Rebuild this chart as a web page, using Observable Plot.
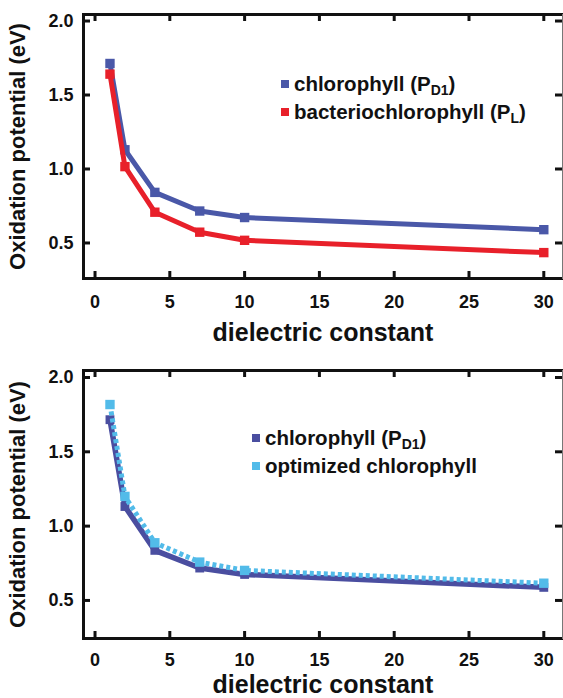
<!DOCTYPE html>
<html>
<head>
<meta charset="utf-8">
<script src="https://cdn.jsdelivr.net/npm/d3@7"></script>
<script src="https://cdn.jsdelivr.net/npm/@observablehq/plot@0.6"></script>
<style>
  html, body { margin: 0; padding: 0; background: #fff; }
  #wrap { position: relative; width: 563px; height: 698px; overflow: hidden; font-family: "Liberation Sans", Arial, sans-serif; }
  #wrap svg { display: block; }
  .legend { position: absolute; font-weight: bold; font-size: 20.5px; color: #111; }
  .legend .row { display: flex; align-items: center; height: 28px; white-space: nowrap; }
  .legend .sw { width: 8px; height: 8px; margin-right: 5px; flex: none; }
  .legend .sub { font-size: 0.68em; position: relative; top: 0.3em; line-height: 0; }
</style>
</head>
<body>
<div id="wrap"></div>
<script>
// ---- data ----
const dielectric = [1, 2, 4, 7, 10, 30];
const chlorophyllPD1 = [1.713, 1.130, 0.842, 0.716, 0.672, 0.590];
const bacteriochlorophyllPL = [1.641, 1.016, 0.708, 0.573, 0.518, 0.435];
const chlorophyllPD1Lower = [1.716, 1.132, 0.837, 0.718, 0.675, 0.588];
const optimizedChlorophyll = [1.818, 1.200, 0.888, 0.758, 0.702, 0.616];
const xTicks = [0, 5, 10, 15, 20, 25, 30];
const yTicks = [0.5, 1.0, 1.5, 2.0];
const xTitle = "dielectric constant";
const yTitle = "Oxidation potential (eV)";

const colors = {
  chlorophyll: "#4a58a8",
  bacterio: "#e8202a",
  chlorophyllDark: "#4a4ea0",
  optimized: "#52bbe9"
};

const toRows = (vals) => dielectric.map((x, i) => ({x, y: vals[i]}));

const W = 563;
const mL = 83, mR = 1;
const innerW = W - mL - mR;

function panel({height, marginTop, marginBottom, yDomain, series, titleDy, xPad}) {
  const innerH = height - marginTop - marginBottom;
  const marks = [];
  for (const s of series) {
    marks.push(Plot.line(toRows(s.values), {x: "x", y: "y", stroke: s.color, strokeWidth: s.width, strokeDasharray: s.dash, strokeLinecap: s.dash ? "butt" : "round", strokeLinejoin: "round"}));
    marks.push(Plot.dot(toRows(s.values), {x: "x", y: "y", symbol: "square", fill: s.color, r: s.r}));
  }
  return Plot.plot({
    width: W,
    height,
    marginLeft: mL,
    marginRight: mR,
    marginTop,
    marginBottom,
    style: {fontFamily: "'Liberation Sans', Arial, sans-serif", fontSize: "18px", fontWeight: "bold", color: "#111", background: "#fff", overflow: "visible"},
    x: {domain: [-0.77, 31.25]},
    y: {domain: yDomain},
    marks: [
      Plot.axisX(xTicks, {tickSize: 0, tickPadding: xPad, fontSize: 18, fontWeight: "bold", label: null}),
      Plot.axisY(yTicks, {tickSize: 0, tickPadding: 10, fontSize: 18, fontWeight: "bold", tickFormat: d3.format(".1f"), label: null}),
      // inward ticks on all four sides
      Plot.tickY(yTicks, {y: d => d, insetRight: innerW - 7, strokeWidth: 3, stroke: "#111"}),
      Plot.tickY(yTicks, {y: d => d, insetLeft: innerW - 7, strokeWidth: 3, stroke: "#111"}),
      Plot.tickX(xTicks, {x: d => d, insetBottom: innerH - 7, strokeWidth: 3, stroke: "#111"}),
      Plot.tickX(xTicks, {x: d => d, insetTop: innerH - 7, strokeWidth: 3, stroke: "#111"}),
      Plot.frame({anchor: "left", strokeWidth: 3, stroke: "#111"}),
      Plot.frame({anchor: "bottom", strokeWidth: 3, stroke: "#111"}),
      Plot.frame({anchor: "top", strokeWidth: 3, stroke: "#111"}),
      Plot.frame({anchor: "right", strokeWidth: 1, stroke: "#777"}),
      ...marks,
      Plot.text([xTitle], {frameAnchor: "bottom", dy: titleDy, lineAnchor: "bottom", fontSize: 25, fontWeight: "bold", fill: "#111"}),
      Plot.text([yTitle], {frameAnchor: "left", textAnchor: "middle", dx: -66, rotate: -90, fontSize: 22, fontWeight: "bold", fill: "#111"})
    ]
  });
}

const wrap = document.getElementById("wrap");

const topPlot = panel({
  height: 350, marginTop: 14, marginBottom: 72,
  yDomain: [0.26, 2.044],
  titleDy: 62,
  xPad: 17,
  series: [
    {values: chlorophyllPD1, color: colors.chlorophyll, width: 5, r: 5.3},
    {values: bacteriochlorophyllPL, color: colors.bacterio, width: 5, r: 5.3}
  ]
});
topPlot.style.position = "absolute"; topPlot.style.left = "0px"; topPlot.style.top = "0px";
wrap.appendChild(topPlot);

const bottomPlot = panel({
  height: 348, marginTop: 20, marginBottom: 60,
  yDomain: [0.244, 2.047],
  titleDy: 54,
  xPad: 15,
  series: [
    {values: chlorophyllPD1Lower, color: colors.chlorophyllDark, width: 5.5, r: 5},
    {values: optimizedChlorophyll, color: colors.optimized, width: 5, dash: "4,3", r: 5.3}
  ]
});
bottomPlot.style.position = "absolute"; bottomPlot.style.left = "0px"; bottomPlot.style.top = "350px";
wrap.appendChild(bottomPlot);

// legends
function legend(left, topPx, items) {
  const div = document.createElement("div");
  div.className = "legend";
  div.style.left = left + "px";
  div.style.top = topPx + "px";
  for (const it of items) {
    const row = document.createElement("div");
    row.className = "row";
    const sw = document.createElement("span");
    sw.className = "sw";
    sw.style.background = it.color;
    const txt = document.createElement("span");
    txt.innerHTML = it.html;
    row.appendChild(sw);
    row.appendChild(txt);
    div.appendChild(row);
  }
  wrap.appendChild(div);
}
legend(281, 70, [
  {color: colors.chlorophyll, html: 'chlorophyll (P<span class="sub">D1</span>)'},
  {color: colors.bacterio, html: 'bacteriochlorophyll (P<span class="sub">L</span>)'}
]);
legend(252, 424, [
  {color: colors.chlorophyllDark, html: 'chlorophyll (P<span class="sub">D1</span>)'},
  {color: colors.optimized, html: 'optimized chlorophyll'}
]);
</script>
</body>
</html>
